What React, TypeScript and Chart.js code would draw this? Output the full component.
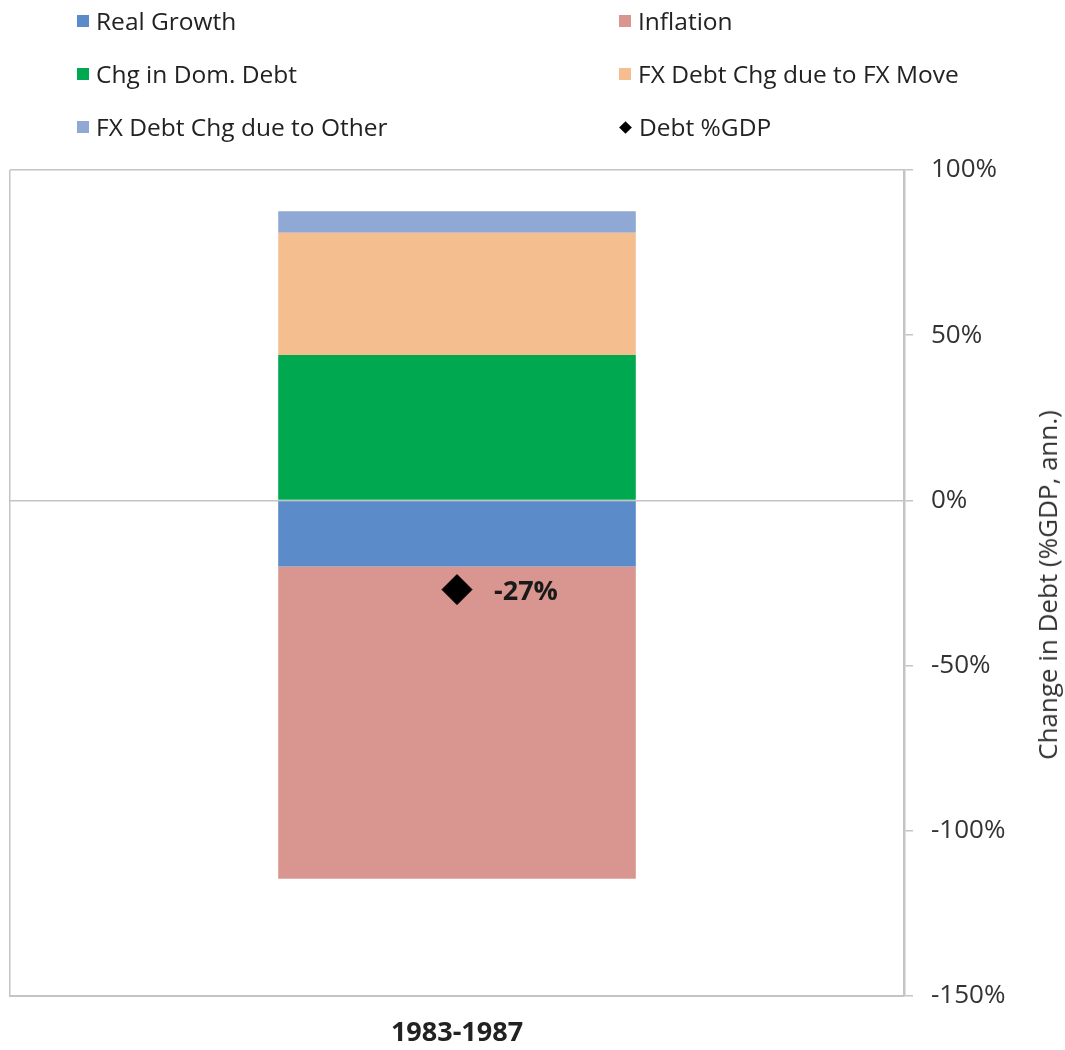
import React, { useEffect, useRef } from "react";
import { Chart, registerables } from "chart.js";

Chart.register(...registerables);

const categories = ["1983-1987"];
const realGrowth = [-20];
const inflation = [-94.5];
const chgDomDebt = [44];
const fxMove = [37];
const fxOther = [6.5];
const debtGdp = [-27];
const debtLabels = ["-27%"];

const yMin = -150;
const yMax = 100;
const yStep = 50;

const seriesNames = [
  "Real Growth",
  "Inflation",
  "Chg in Dom. Debt",
  "FX Debt Chg due to FX Move",
  "FX Debt Chg due to Other",
  "Debt %GDP",
];
const seriesColors = ["#5b8bc9", "#d9958f", "#00a84f", "#f5be8f", "#8fa9d4", "#000000"];

const GRID = "#c4c4c4";
const FONT = "'Open Sans', 'DejaVu Sans', sans-serif";

const labelPlugin = {
  id: "debtLabel",
  afterDatasetsDraw(chart: any) {
    const meta = chart.getDatasetMeta(5);
    const ctx = chart.ctx;
    ctx.save();
    ctx.font = `bold 27px ${FONT}`;
    ctx.fillStyle = "#1a1a1a";
    ctx.textAlign = "left";
    ctx.textBaseline = "middle";
    meta.data.forEach((pt: any, i: number) => {
      ctx.fillText(debtLabels[i], pt.x + 37, pt.y + 3);
    });
    ctx.restore();
  },
};

export default function App() {
  const ref = useRef<HTMLCanvasElement | null>(null);

  useEffect(() => {
    document.body.style.margin = "0";
    if (!ref.current) return;
    const chart = new Chart(ref.current, {
      type: "bar",
      data: {
        labels: categories,
        datasets: [
          { label: seriesNames[0], data: realGrowth, backgroundColor: seriesColors[0], stack: "a", order: 2 },
          { label: seriesNames[1], data: inflation, backgroundColor: seriesColors[1], stack: "a", order: 2 },
          { label: seriesNames[2], data: chgDomDebt, backgroundColor: seriesColors[2], stack: "a", order: 2 },
          { label: seriesNames[3], data: fxMove, backgroundColor: seriesColors[3], stack: "a", order: 2 },
          { label: seriesNames[4], data: fxOther, backgroundColor: seriesColors[4], stack: "a", order: 2 },
          {
            type: "line",
            label: seriesNames[5],
            data: debtGdp,
            stack: "debt",
            showLine: false,
            pointStyle: "rectRot",
            pointRadius: 15,
            pointBackgroundColor: "#000",
            pointBorderColor: "#000",
            backgroundColor: "#000",
            borderColor: "#000",
            order: 1,
          } as any,
        ],
      },
      options: {
        animation: false,
        responsive: false,
        maintainAspectRatio: false,
        layout: { autoPadding: false, padding: { top: 170, left: 10, right: 0, bottom: 0 } },
        datasets: { bar: { barPercentage: 0.4, categoryPercentage: 1.0 } },
        plugins: {
          legend: { display: false },
          tooltip: { enabled: false },
        },
        scales: {
          x: {
            stacked: true,
            offset: true,
            grid: { display: true, offset: true, color: GRID, lineWidth: 1.5, drawTicks: false },
            border: { display: true, color: GRID, width: 2 },
            ticks: { font: { family: FONT, size: 27, weight: "bold" }, color: "#222", padding: 21 },
            afterFit: (s: any) => {
              s.height = 54;
            },
          },
          y: {
            stacked: true,
            position: "right",
            min: yMin,
            max: yMax,
            ticks: {
              stepSize: yStep,
              font: { family: FONT, size: 26 },
              color: "#333",
              padding: 18,
              callback: (v: any) => `${v}%`,
            },
            grid: {
              color: (c: any) => (c.tick && (c.tick.value === 0 || c.tick.value === yMax) ? GRID : "rgba(0,0,0,0)"),
              tickColor: GRID,
              tickLength: 9,
              lineWidth: 1.5,
            },
            border: { display: true, color: GRID, width: 2.5 },
            afterFit: (s: any) => {
              s.width = 161;
            },
          },
        },
      },
      plugins: [labelPlugin],
    });
    return () => chart.destroy();
  }, []);

  const legendCols = [77, 619];
  const legendRows = [21, 74, 127];

  return (
    <div style={{ position: "relative", width: 1065, height: 1050, background: "#fff", fontFamily: FONT }}>
      <canvas ref={ref} width={1065} height={1050} style={{ position: "absolute", left: 0, top: 0 }} />
      {seriesNames.map((name, i) => {
        const col = i % 2;
        const row = Math.floor(i / 2);
        const isDiamond = i === 5;
        return (
          <div
            key={name}
            style={{
              position: "absolute",
              left: legendCols[col],
              top: legendRows[row],
              transform: "translateY(-50%)",
              display: "flex",
              alignItems: "center",
              whiteSpace: "nowrap",
              fontSize: 24.5,
              color: "#222",
              lineHeight: "30px",
            }}
          >
            <span
              style={{
                display: "inline-block",
                width: isDiamond ? 9 : 12,
                height: isDiamond ? 9 : 12,
                background: seriesColors[i],
                transform: isDiamond ? "rotate(45deg)" : "none",
                marginRight: isDiamond ? 9 : 7,
                marginLeft: isDiamond ? 2 : 0,
              }}
            />
            <span>{name}</span>
          </div>
        );
      })}
      <div
        style={{
          position: "absolute",
          left: 1047,
          top: 585,
          transform: "translate(-50%, -50%) rotate(-90deg)",
          whiteSpace: "nowrap",
          fontSize: 26,
          color: "#333",
        }}
      >
        Change in Debt (%GDP, ann.)
      </div>
    </div>
  );
}
